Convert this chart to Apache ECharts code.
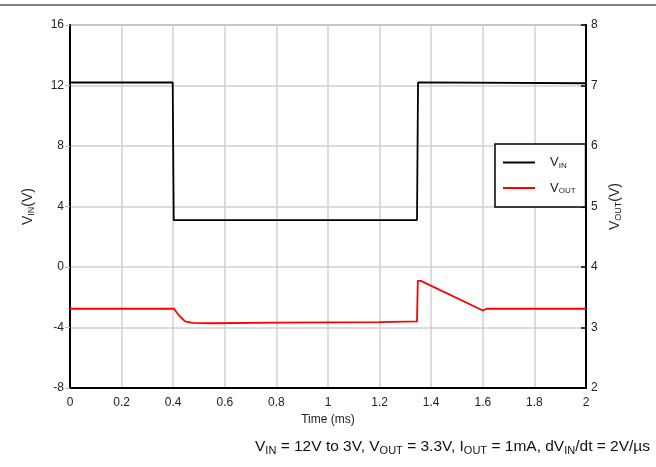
<!DOCTYPE html>
<html>
<head>
<meta charset="utf-8">
<script src="https://cdn.jsdelivr.net/npm/echarts@6/dist/echarts.min.js"></script>
<style>
  html, body { margin: 0; padding: 0; background: #fff; }
  #main { width: 656px; height: 467px; }
</style>
</head>
<body>
<div id="main"></div>
<script>
// 数据 (从图上读出来的)
var timeTicks = [0, 0.2, 0.4, 0.6, 0.8, 1, 1.2, 1.4, 1.6, 1.8, 2];
var vinTicks = [-8, -4, 0, 4, 8, 12, 16];
var voutTicks = [2, 3, 4, 5, 6, 7, 8];

var vinTime = [0, 0.398, 0.402, 1.345, 1.349, 2];
var vinValue = [12.2, 12.2, 3.1, 3.1, 12.2, 12.15];

var voutTime = [0, 0.403, 0.415, 0.427, 0.446, 0.475, 0.55, 0.8, 1.0, 1.2, 1.345, 1.348, 1.36, 1.6, 1.615, 2];
var voutValue = [3.31, 3.31, 3.24, 3.18, 3.10, 3.075, 3.07, 3.08, 3.085, 3.09, 3.10, 3.77, 3.77, 3.28, 3.31, 3.31];

var FONT = 'Liberation Sans, Arial, sans-serif';

function pairs(xs, ys) {
    var out = [];
    for (var i = 0; i < xs.length; i++) {
        out.push([xs[i], ys[i]]);
    }
    return out;
}

var subRich = {
    a: { fontSize: 14, fontFamily: FONT, color: '#222' },
    s: { fontSize: 9, fontFamily: FONT, color: '#222', padding: [6, 0, 0, 0] }
};

function initEcharts() {
    var myChart = echarts.init(document.getElementById('main'));

    var option = {
        animation: false,
        backgroundColor: '#fff',
        grid: {
            left: 70,
            right: 70,
            top: 25,
            bottom: 79,
            show: true,
            borderColor: '#888',
            borderWidth: 1.5
        },
        legend: {
            orient: 'vertical',
            left: 495,
            top: 144,
            itemWidth: 32,
            itemHeight: 14,
            itemGap: 12,
            padding: [12, 10, 12, 7],
            borderColor: '#000',
            borderWidth: 1.5,
            backgroundColor: '#fff',
            itemStyle: { opacity: 0 },
            data: ['VIN', 'VOUT'],
            formatter: function(name) {
                return '{p|}{a|V}{s|' + name.substring(1) + '}';
            },
            textStyle: {
                rich: {
                    p: { width: 10 },
                    a: { fontSize: 13, fontFamily: FONT, color: '#222' },
                    s: { fontSize: 8, fontFamily: FONT, color: '#222', padding: [6, 0, 0, 0] }
                }
            }
        },
        xAxis: {
            type: 'value',
            min: timeTicks[0],
            max: timeTicks[timeTicks.length - 1],
            interval: 0.2,
            name: 'Time (ms)',
            nameLocation: 'middle',
            nameGap: 22,
            nameTextStyle: { fontSize: 12, fontFamily: FONT, color: '#222' },
            axisLine: { onZero: false, lineStyle: { color: '#000', width: 2 } },
            axisTick: { show: false },
            axisLabel: { fontSize: 12, fontFamily: FONT, color: '#222', margin: 9 },
            splitLine: { lineStyle: { color: '#d0d0d0', width: 1.5 } }
        },
        yAxis: [
            {
                type: 'value',
                position: 'left',
                min: vinTicks[0],
                max: vinTicks[vinTicks.length - 1],
                interval: 4,
                name: '{a|V}{s|IN}{a|(V)}',
                nameLocation: 'middle',
                nameRotate: 90,
                nameGap: 34,
                nameTextStyle: { rich: subRich },
                axisLine: { show: true, onZero: false, lineStyle: { color: '#000', width: 2 } },
                axisTick: { show: true, length: 5, lineStyle: { color: '#bbb' } },
                axisLabel: { fontSize: 12, fontFamily: FONT, color: '#222', margin: 6 },
                splitLine: { lineStyle: { color: '#d0d0d0', width: 1.5 } }
            },
            {
                type: 'value',
                position: 'right',
                min: voutTicks[0],
                max: voutTicks[voutTicks.length - 1],
                interval: 1,
                name: '{a|V}{s|OUT}{a|(V)}',
                nameLocation: 'middle',
                nameRotate: 90,
                nameGap: 22,
                nameTextStyle: { rich: subRich },
                axisLine: { show: true, onZero: false, lineStyle: { color: '#000', width: 2 } },
                axisTick: { show: true, inside: true, length: 5, lineStyle: { color: '#000', width: 1.5 } },
                axisLabel: { fontSize: 12, fontFamily: FONT, color: '#222', margin: 5 },
                splitLine: { show: false }
            }
        ],
        series: [
            {
                name: 'VIN',
                type: 'line',
                yAxisIndex: 0,
                symbol: 'none',
                data: pairs(vinTime, vinValue),
                lineStyle: { color: '#000', width: 1.8 },
                itemStyle: { color: '#000' }
            },
            {
                name: 'VOUT',
                type: 'line',
                yAxisIndex: 1,
                symbol: 'none',
                data: pairs(voutTime, voutValue),
                lineStyle: { color: '#ff0000', width: 1.8 },
                itemStyle: { color: '#ff0000' }
            }
        ],
        graphic: [
            {
                type: 'rect',
                left: 0,
                top: 4,
                shape: { width: 656, height: 2 },
                style: { fill: '#808080' }
            },
            {
                type: 'text',
                left: 255,
                top: 439,
                style: {
                    text: '{a|V}{s|IN}{a| = 12V to 3V, V}{s|OUT}{a| = 3.3V, I}{s|OUT}{a| = 1mA, dV}{s|IN}{a|/dt = 2V/µs}',
                    rich: {
                        a: { fontSize: 15.5, fontFamily: FONT, fill: '#111' },
                        s: { fontSize: 11, fontFamily: FONT, fill: '#111', padding: [7, 0, 0, 0] }
                    }
                }
            }
        ]
    };

    myChart.setOption(option);
    resize(myChart);
}

// 响应式
function resize(echart) {
    window.onresize = function() {
        echart.resize();
    };
}

initEcharts();
</script>
</body>
</html>
